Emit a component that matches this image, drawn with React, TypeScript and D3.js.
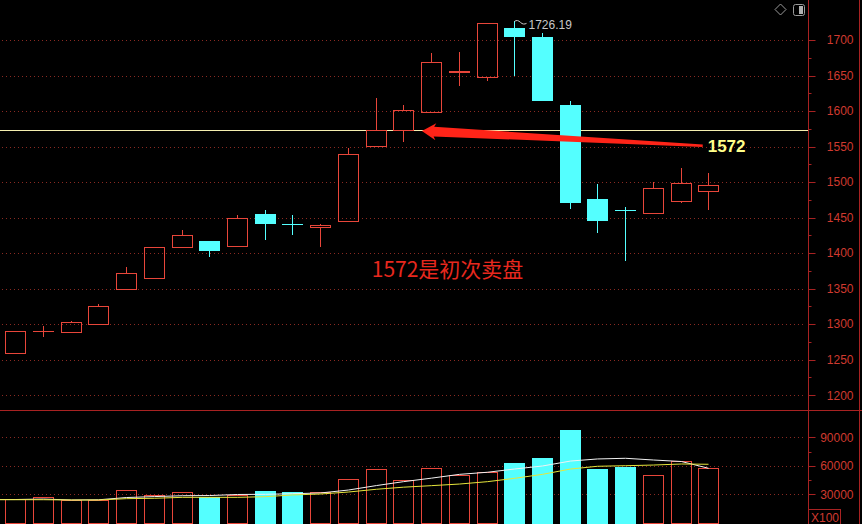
import React from 'react';
import * as d3 from 'd3';

const W = 862;
const H = 524;

const categories = d3.range(1, 27).map((i) => `K${i}`);
const opens = [1259, 1291, 1289.5, 1300.5, 1349, 1365.5, 1409, 1416.5, 1410.5, 1455, 1440.5, 1436.5, 1445.5, 1551, 1573.5, 1598, 1654.5, 1648.5, 1717, 1704, 1608.5, 1476, 1460.5, 1457, 1474, 1488];
const highs = [1290, 1298, 1304, 1328.5, 1380, 1408, 1432.5, 1416.5, 1453.5, 1460.5, 1453.5, 1441, 1548, 1618.5, 1608.5, 1681, 1682.5, 1723.5, 1726.19, 1709.5, 1614, 1497.5, 1464.5, 1500.5, 1519.5, 1513];
const lows = [1259, 1282, 1287.5, 1300.5, 1349, 1365.5, 1409, 1395, 1410.5, 1418.5, 1426, 1409, 1445.5, 1551, 1557, 1598, 1635.5, 1642.5, 1649.5, 1614.5, 1462.5, 1428, 1389.5, 1457, 1470, 1460.5];
const closes = [1290, 1291, 1302.5, 1325.5, 1371.5, 1408, 1425, 1403.5, 1449.5, 1441.5, 1439.5, 1439.5, 1539, 1573, 1601, 1668.5, 1656, 1723.5, 1704, 1614.5, 1471, 1445.5, 1460, 1491, 1498.5, 1496];
const volumes = [25400, 26800, 24000, 24000, 34200, 29300, 32100, 26800, 29300, 33500, 32400, 32100, 45800, 56300, 44700, 57400, 50600, 53500, 63300, 68200, 97700, 57000, 58700, 50000, 64700, 57400];
const volMaWhite = [24500, 25000, 24000, 24200, 26600, 27600, 28500, 28700, 29800, 30000, 30600, 31400, 34500, 39200, 43300, 47000, 51000, 53200, 56600, 59800, 65000, 67200, 67900, 66100, 64500, 57400];
const volMaYellow = [24300, 24300, 24000, 24000, 25400, 25800, 26800, 26800, 26800, 27500, 29300, 30300, 32400, 35300, 37500, 39100, 40800, 43300, 46800, 51000, 56600, 59500, 60100, 60800, 61900, 61600];

const priceTicks = [1200, 1250, 1300, 1350, 1400, 1450, 1500, 1550, 1600, 1650, 1700];
const priceMinorTicks = [1225, 1275, 1325, 1375, 1425, 1475, 1525, 1575, 1625, 1675];
const volumeTicks = [30000, 60000, 90000];
const volumeMinorTicks = [45000, 75000];

const peakIndex = 18;
const peakLabel = '1726.19';
const levelPrice = 1574;
const levelLabel = '1572';
const arrowTip = { index: 14.67, price: 1572 };
const arrowTail = { index: 24.8, price: 1551 };
const noteText = '1572是初次卖盘';
const notePos = { index: 12.86, price: 1366 };

const RED = '#e8463a';
const CYAN = '#54ffff';
const GRID = '#8a2a22';
const AXIS = '#a82222';
const AXIS_TEXT = '#cf3a2f';

export default function App() {
  const x = d3
    .scaleBand<string>()
    .domain(categories)
    .range([1.4, 1.4 + 26 * 27.72])
    .paddingInner(0.25)
    .paddingOuter(0.125);
  const bw = Math.round(x.bandwidth());
  const cx = (i: number) => Math.round((x(categories[i]) as number) + x.bandwidth() / 2);
  const xi = d3
    .scaleLinear()
    .domain([0, categories.length - 1])
    .range([(x(categories[0]) as number) + x.bandwidth() / 2, (x(categories[categories.length - 1]) as number) + x.bandwidth() / 2]);

  const yP = d3.scaleLinear().domain([1200, 1700]).range([395.2, 40]);
  const yV = d3.scaleLinear().domain([0, 90000]).range([522.8, 437.3]);

  const axisX = 808.5;
  const plotRight = 806;

  const candles = categories.map((c, i) => {
    const o = opens[i], cl = closes[i], h = highs[i], l = lows[i];
    const up = cl >= o;
    const c0 = cx(i);
    const left = c0 - Math.floor(bw / 2);
    const top = Math.round(yP(Math.max(o, cl)));
    const bot = Math.round(yP(Math.min(o, cl)));
    const yh = Math.round(yP(h));
    const yl = Math.round(yP(l));
    const color = up ? RED : CYAN;
    const flat = bot - top < 1;
    return (
      <g key={c}>
        {up ? (
          <>
            {yh < top && <line x1={c0 + 0.5} x2={c0 + 0.5} y1={yh} y2={top} stroke={color} />}
            {yl > bot && <line x1={c0 + 0.5} x2={c0 + 0.5} y1={bot} y2={yl} stroke={color} />}
            {flat ? (
              <line x1={left} x2={left + bw} y1={top + 0.5} y2={top + 0.5} stroke={color} />
            ) : (
              <rect x={left + 0.5} y={top + 0.5} width={bw - 1} height={bot - top} fill="none" stroke={color} />
            )}
          </>
        ) : (
          <>
            <line x1={c0 + 0.5} x2={c0 + 0.5} y1={yh} y2={yl} stroke={color} />
            <rect x={left} y={top} width={bw} height={Math.max(1, bot - top)} fill={color} />
          </>
        )}
      </g>
    );
  });

  const volBars = categories.map((c, i) => {
    const up = closes[i] >= opens[i];
    const c0 = cx(i);
    const left = c0 - Math.floor(bw / 2);
    const top = Math.round(yV(volumes[i]));
    const bot = Math.round(yV(0));
    return up ? (
      <rect key={c} x={left + 0.5} y={top + 0.5} width={bw - 1} height={bot - top} fill="none" stroke={RED} />
    ) : (
      <rect key={c} x={left} y={top} width={bw} height={bot - top + 1} fill={CYAN} />
    );
  });

  const maLine = d3
    .line<number>()
    .x((_, i) => cx(i) + 0.5)
    .y((v) => yV(v));
  const whitePath = 'M0,' + yV(volMaWhite[0]) + 'L' + (maLine(volMaWhite) as string).slice(1);
  const yellowPath = 'M0,' + yV(volMaYellow[0]) + 'L' + (maLine(volMaYellow) as string).slice(1);

  // arrow polygon
  const tip = [xi(arrowTip.index), yP(arrowTip.price)];
  const tail = [xi(arrowTail.index), yP(arrowTail.price)];
  const dx = tail[0] - tip[0], dy = tail[1] - tip[1];
  const len = Math.hypot(dx, dy);
  const ux = dx / len, uy = dy / len;
  const nx = -uy, ny = ux;
  const hb = [tip[0] + ux * 14, tip[1] + uy * 14];
  const sb = [tip[0] + ux * 12, tip[1] + uy * 12];
  const pts = [
    tip,
    [hb[0] + nx * 8.5, hb[1] + ny * 8.5],
    [sb[0] + nx * 4.8, sb[1] + ny * 4.8],
    [tail[0] + nx * 1.3, tail[1] + ny * 1.3],
    [tail[0] - nx * 1.3, tail[1] - ny * 1.3],
    [sb[0] - nx * 4.8, sb[1] - ny * 4.8],
    [hb[0] - nx * 8.5, hb[1] - ny * 8.5],
  ];
  const arrowPath = 'M' + pts.map((p) => `${p[0].toFixed(1)},${p[1].toFixed(1)}`).join('L') + 'Z';

  const pkX = cx(peakIndex) + 0.5;
  const pkY = yP(highs[peakIndex]);

  const fontAxis = '"Liberation Sans", Arial, sans-serif';

  return (
    <svg width={W} height={H} style={{ position: 'absolute', left: 0, top: 0, background: '#000' }}>
      <rect x={0} y={0} width={W} height={H} fill="#000" />
      {priceTicks.map((t) => (
        <line key={'g' + t} x1={2} x2={plotRight} y1={Math.round(yP(t)) + 0.5} y2={Math.round(yP(t)) + 0.5} stroke={GRID} strokeDasharray="1 3" />
      ))}
      {volumeTicks.map((t) => (
        <line key={'vg' + t} x1={2} x2={plotRight} y1={Math.round(yV(t)) + 0.5} y2={Math.round(yV(t)) + 0.5} stroke={GRID} strokeDasharray="1 3" />
      ))}
      <line x1={0} x2={axisX} y1={Math.round(yP(levelPrice)) + 0.5} y2={Math.round(yP(levelPrice)) + 0.5} stroke="#f5efb0" />
      {candles}
      {volBars}
      <path d={whitePath} fill="none" stroke="#f2f2f2" strokeWidth={1} />
      <path d={yellowPath} fill="none" stroke="#e6e63c" strokeWidth={1} />
      <path d={`M${pkX},${pkY} c2,-1.5 4,-1 6,1 s4,2 6,1`} fill="none" stroke="#c8c8c8" />
      <text x={pkX + 14} y={pkY + 8} fill="#c8c8c8" fontSize={12} fontFamily={fontAxis}>
        {peakLabel}
      </text>
      <path d={arrowPath} fill="#ff2418" />
      <text x={tail[0] + 5} y={tail[1] + 6} fill="#ffff8a" fontSize={17} fontWeight="bold" fontFamily={fontAxis}>
        {levelLabel}
      </text>
      <text x={xi(notePos.index)} y={yP(notePos.price)} fill="#e8281e" fontSize={21} fontFamily='"Noto Sans CJK SC", sans-serif'>
        {noteText}
      </text>
      <line x1={0} x2={W} y1={410.5} y2={410.5} stroke={AXIS} />
      <line x1={axisX} x2={axisX} y1={0} y2={H} stroke={AXIS} />
      <line x1={859.5} x2={859.5} y1={0} y2={H} stroke={AXIS} />
      {priceTicks.map((t) => (
        <g key={'pt' + t}>
          <line x1={axisX} x2={axisX + 7} y1={Math.round(yP(t)) + 0.5} y2={Math.round(yP(t)) + 0.5} stroke={AXIS} />
          <text x={853.5} y={yP(t)} dy="0.36em" textAnchor="end" fill={AXIS_TEXT} fontSize={12} fontFamily={fontAxis}>
            {t}
          </text>
        </g>
      ))}
      {priceMinorTicks.map((t) => (
        <line key={'pm' + t} x1={axisX} x2={axisX + 3} y1={Math.round(yP(t)) + 0.5} y2={Math.round(yP(t)) + 0.5} stroke={AXIS} />
      ))}
      {volumeTicks.map((t) => (
        <g key={'vt' + t}>
          <line x1={axisX} x2={axisX + 7} y1={Math.round(yV(t)) + 0.5} y2={Math.round(yV(t)) + 0.5} stroke={AXIS} />
          <text x={853.5} y={yV(t)} dy="0.36em" textAnchor="end" fill={AXIS_TEXT} fontSize={12} fontFamily={fontAxis}>
            {t}
          </text>
        </g>
      ))}
      {volumeMinorTicks.map((t) => (
        <line key={'vm' + t} x1={axisX} x2={axisX + 3} y1={Math.round(yV(t)) + 0.5} y2={Math.round(yV(t)) + 0.5} stroke={AXIS} />
      ))}
      <rect x={axisX} y={509.5} width={32} height={15} fill="none" stroke={AXIS} />
      <text x={axisX + 2.5} y={521.5} fill={AXIS_TEXT} fontSize={12} fontFamily={fontAxis}>
        X100
      </text>
      <path d="M780.5,4 L786,9.5 L780.5,15 L775,9.5 Z" fill="none" stroke="#9a9a9a" />
      <rect x={793.5} y={4.5} width={11} height={11} rx={2} fill="none" stroke="#9a9a9a" />
      <rect x={799} y={6} width={4} height={8} fill="#b0b0b0" />
    </svg>
  );
}
